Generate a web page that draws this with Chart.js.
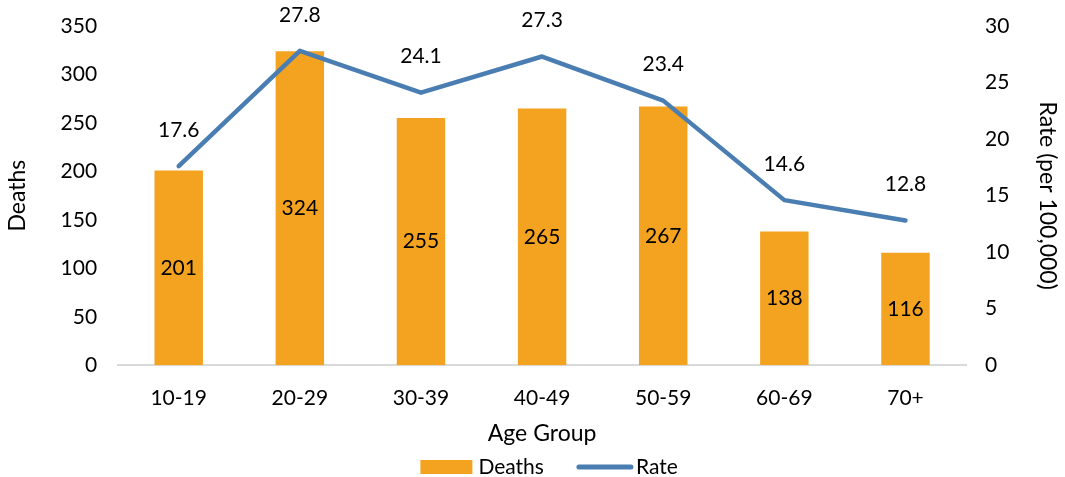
<!DOCTYPE html>
<html>
<head>
<meta charset="utf-8">
<script src="https://cdn.jsdelivr.net/npm/chart.js@4.4.1/dist/chart.umd.min.js"></script>
<style>
  body { margin: 0; background: #fff; }
  #wrap { width: 1065px; height: 477px; }
</style>
</head>
<body>
<div id="wrap"><canvas id="chart"></canvas></div>
<script>
const ageGroups = ["10-19", "20-29", "30-39", "40-49", "50-59", "60-69", "70+"];
const deaths = [201, 324, 255, 265, 267, 138, 116];
const rates = [17.6, 27.8, 24.1, 27.3, 23.4, 14.6, 12.8];

const FONT = "Lato, 'Open Sans', sans-serif";
const BAR_COLOR = '#F4A321';
const LINE_COLOR = '#4A7EB2';

// draws the value labels: centred inside bars, above line points
const valueLabels = {
    id: 'valueLabels',
    afterDatasetsDraw(chart) {
        const ctx = chart.ctx;
        ctx.save();
        ctx.font = "21px " + FONT;
        ctx.fillStyle = "#000";
        ctx.textAlign = "center";
        ctx.textBaseline = "middle";
        chart.data.datasets.forEach((ds, i) => {
            const meta = chart.getDatasetMeta(i);
            meta.data.forEach((el, j) => {
                if (ds.type === 'bar') {
                    ctx.fillText(ds.data[j], el.x, (el.y + el.base) / 2);
                } else {
                    ctx.fillText(ds.data[j].toFixed(1), el.x, el.y - 36);
                }
            });
        });
        ctx.restore();
    }
};

// simple legend along the bottom: bar swatch, then line swatch
const bottomLegend = {
    id: 'bottomLegend',
    afterDraw(chart) {
        const ctx = chart.ctx;
        const items = [chart.data.datasets[1], chart.data.datasets[0]];
        const swatch = 52, gapText = 6, gapItem = 34;
        ctx.save();
        ctx.font = "21px " + FONT;
        ctx.textBaseline = "middle";
        let total = 0;
        items.forEach((ds, i) => {
            total += swatch + gapText + ctx.measureText(ds.label).width;
            if (i < items.length - 1) total += gapItem;
        });
        let x = (chart.chartArea.left + chart.chartArea.right) / 2 + 7 - total / 2;
        const y = chart.height - 10;
        items.forEach(ds => {
            if (ds.type === 'bar') {
                ctx.fillStyle = ds.backgroundColor;
                ctx.fillRect(x, y - 7, swatch, 14);
            } else {
                ctx.strokeStyle = ds.borderColor;
                ctx.lineWidth = 5;
                ctx.lineCap = 'round';
                ctx.beginPath();
                ctx.moveTo(x + 1, y);
                ctx.lineTo(x + swatch + 1, y);
                ctx.stroke();
            }
            x += swatch + gapText;
            ctx.fillStyle = '#000';
            ctx.fillText(ds.label, x, y);
            x += ctx.measureText(ds.label).width + gapItem;
        });
        ctx.restore();
    }
};

const ctx = document.getElementById('chart').getContext('2d');
const chart = new Chart(ctx, {
    data: {
        labels: ageGroups,
        datasets: [
            {
                type: 'line',
                label: 'Rate',
                data: rates,
                yAxisID: 'y2',
                borderColor: LINE_COLOR,
                backgroundColor: LINE_COLOR,
                borderWidth: 4.5,
                borderCapStyle: 'round',
                borderJoinStyle: 'round',
                pointRadius: 0,
                tension: 0,
                order: 0
            },
            {
                type: 'bar',
                label: 'Deaths',
                data: deaths,
                yAxisID: 'y',
                backgroundColor: BAR_COLOR,
                borderWidth: 0,
                categoryPercentage: 1,
                barPercentage: 0.4,
                order: 1
            }
        ]
    },
    options: {
        responsive: true,
        maintainAspectRatio: false,
        animation: false,
        layout: { padding: { left: 4, right: 4, top: 26, bottom: 31 } },
        plugins: {
            tooltip: { enabled: false },
            legend: { display: false }
        },
        scales: {
            x: {
                grid: { display: false, drawTicks: false },
                border: { display: true, color: '#D9D9D9', width: 2 },
                ticks: { color: '#000', font: { family: FONT, size: 21 }, padding: 20 },
                title: { display: true, text: 'Age Group', color: '#000', font: { family: FONT, size: 23 }, padding: { top: -11, bottom: -1 } }
            },
            y: {
                position: 'left',
                min: 0,
                max: 350,
                ticks: { stepSize: 50, color: '#000', font: { family: FONT, size: 21 }, padding: 0 },
                grid: { display: false, drawTicks: true, tickLength: 21 },
                border: { display: false },
                title: { display: true, text: 'Deaths', color: '#000', font: { family: FONT, size: 23 }, padding: { top: 0, bottom: 29 } }
            },
            y2: {
                position: 'right',
                min: 0,
                max: 30,
                ticks: { stepSize: 5, color: '#000', font: { family: FONT, size: 21 }, padding: 0 },
                grid: { display: false, drawTicks: true, tickLength: 19 },
                border: { display: false },
                title: { display: true, text: 'Rate (per 100,000)', color: '#000', font: { family: FONT, size: 23 }, padding: { top: 0, bottom: 24 } }
            }
        }
    },
    plugins: [valueLabels, bottomLegend]
});
</script>
</body>
</html>
